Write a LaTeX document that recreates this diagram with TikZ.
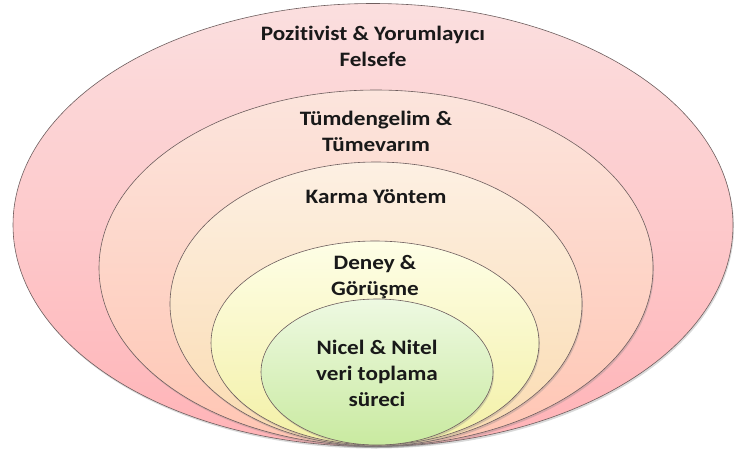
\documentclass[tikz,border=0pt]{standalone}
\usepackage{fontspec}
\setmainfont{Carlito}[FakeStretch=1.13,RawFeature={-liga;-clig;-calt;-dlig}]
\usetikzlibrary{shapes.geometric,shadows,positioning}

\definecolor{felsefetop}{HTML}{FBDFDF}
\definecolor{felsefebot}{HTML}{FFB3B7}
\definecolor{yaklasimtop}{HTML}{FCE5DD}
\definecolor{yaklasimbot}{HTML}{FFC5B3}
\definecolor{yontemtop}{HTML}{FDF0E3}
\definecolor{yontembot}{HTML}{FADBB0}
\definecolor{stratejitop}{HTML}{FEFEE6}
\definecolor{stratejibot}{HTML}{F3F0A6}
\definecolor{veritop}{HTML}{EEF9E2}
\definecolor{veribot}{HTML}{C9EAA0}
\definecolor{kenar}{HTML}{6E5E5E}

\begin{document}
\begin{tikzpicture}[
    x=1pt, y=-1pt,
    font=\bfseries\fontsize{20.5}{26}\selectfont,
    layer/.style={ellipse,draw=kenar,line width=0.6pt,inner sep=0pt,
        drop shadow={opacity=0.3,shadow xshift=1pt,shadow yshift=-2pt}},
    lbl/.style={align=center,inner sep=0pt,text=black!90}
]
\path[use as bounding box] (0,0) rectangle (736,459);

% nested layers, outermost first
\foreach \n/\cx/\cy/\w/\h in {felsefe/373/225/720/443,yaklasim/376/268/554/356,
        yontem/376/304/412/284,strateji/375/343/328/204,veri/377/372/232/146} {
    \node[layer,top color=\n top,bottom color=\n bot,
        minimum width=\w pt,minimum height=\h pt] (\n) at (\cx,\cy) {};
}

\node[lbl,below=23pt of felsefe.north] (felsefeText) {Pozit\kern0pt ivist \& Yorumlayıcı\\Felsefe};
\node[lbl,below=21pt of yaklasim.north] (yaklasimText) {Tümdengelim \&\\Tümevarım};
\node[lbl,below=28pt of yontem.north] (yontemText) {Karma Yöntem};
\node[lbl,below=14pt of strateji.north] (stratejiText) {Deney \&\\Görüşme};
\node[lbl,below=41pt of veri.north] (veriText) {Nicel \& Nitel\\veri toplama\\süreci};
\end{tikzpicture}
\end{document}
